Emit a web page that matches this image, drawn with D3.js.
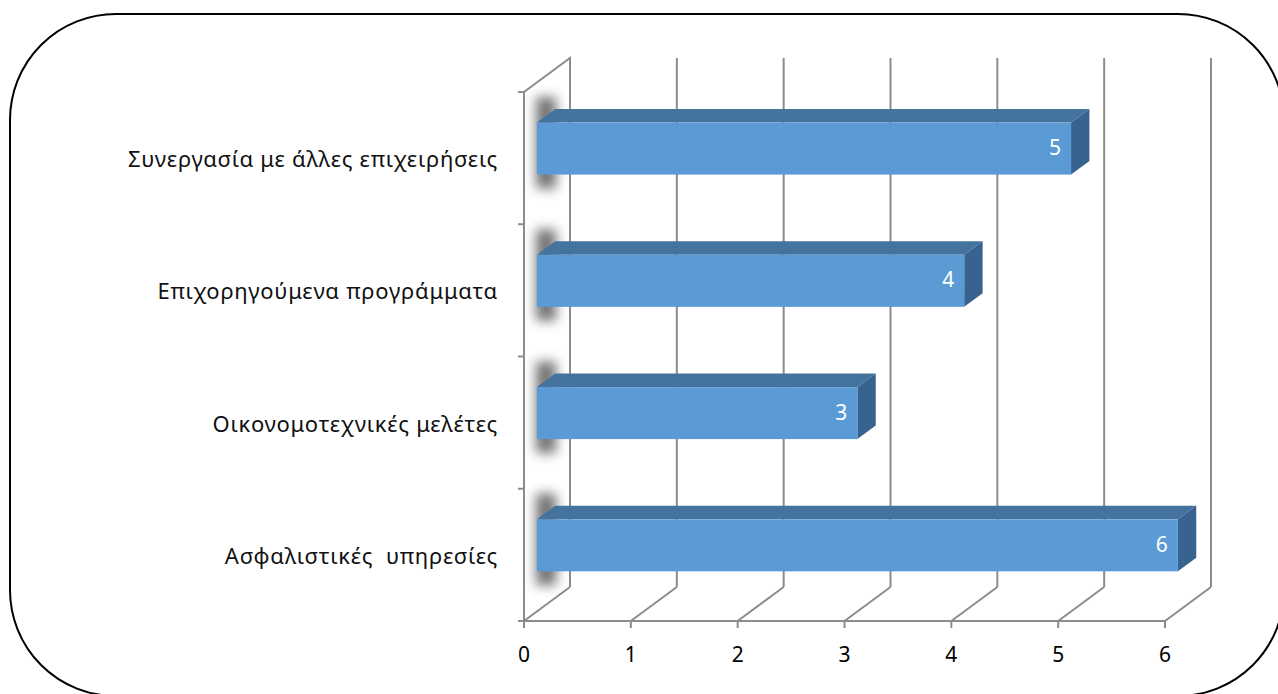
<!DOCTYPE html>
<html>
<head>
<meta charset="utf-8">
<script src="https://cdnjs.cloudflare.com/ajax/libs/d3/7.8.5/d3.min.js"></script>
<style>
  html, body { margin: 0; padding: 0; background: #fff; }
  svg { display: block; }
  text { font-family: "Noto Sans", "Open Sans", sans-serif; white-space: pre; }
</style>
</head>
<body>
<svg id="chart" width="1278" height="694"></svg>
<script>
// Categories listed from top to bottom
const categories = [
  "Συνεργασία με άλλες επιχειρήσεις",
  "Επιχορηγούμενα προγράμματα",
  "Οικονομοτεχνικές μελέτες",
  "Ασφαλιστικές  υπηρεσίες"
];
const values = [5, 4, 3, 6];
const xTicks = [0, 1, 2, 3, 4, 5, 6];

const svg = d3.select("#chart");

// Front plane of the plot area and the 3D depth offset
const plot = { left: 524, right: 1165, top: 92, bottom: 621 };
const depth = { dx: 46, dy: -34 };
const barFront = 0.28, barBack = 0.68;   // bar position inside the depth
const barFrac = 0.393;                     // bar thickness relative to band

const x = d3.scaleLinear().domain([0, 6]).range([plot.left, plot.right]);
const y = d3.scaleBand().domain(categories).range([plot.top, plot.bottom]).padding(0);

const grid = "#8c8c8c";

// Rounded frame
svg.append("rect")
  .attr("x", 10).attr("y", 14)
  .attr("width", 1274).attr("height", 682)
  .attr("rx", 106).attr("ry", 106)
  .attr("fill", "none").attr("stroke", "#000").attr("stroke-width", 2);

const defs = svg.append("defs");
defs.append("filter").attr("id", "soft")
  .attr("x", "-100%").attr("y", "-50%").attr("width", "300%").attr("height", "200%")
  .append("feGaussianBlur").attr("stdDeviation", 6);

const g = svg.append("g");

// Left wall
const wallPts = [
  [plot.left, plot.bottom], [plot.left, plot.top],
  [plot.left + depth.dx, plot.top + depth.dy], [plot.left + depth.dx, plot.bottom + depth.dy]
];
g.append("path")
  .attr("d", d3.line()(wallPts))
  .attr("fill", "none").attr("stroke", grid).attr("stroke-width", 2);

// Back wall gridlines and floor diagonals
xTicks.forEach(t => {
  if (t > 0) {
    g.append("line")
      .attr("x1", x(t) + depth.dx).attr("x2", x(t) + depth.dx)
      .attr("y1", plot.top + depth.dy).attr("y2", plot.bottom + depth.dy)
      .attr("stroke", grid).attr("stroke-width", 2);
  }
  g.append("line")
    .attr("x1", x(t)).attr("y1", plot.bottom)
    .attr("x2", x(t) + depth.dx).attr("y2", plot.bottom + depth.dy)
    .attr("stroke", grid).attr("stroke-width", 2);
});

// Front x axis line and ticks
g.append("line")
  .attr("x1", plot.left - 6).attr("x2", plot.right)
  .attr("y1", plot.bottom).attr("y2", plot.bottom)
  .attr("stroke", grid).attr("stroke-width", 2);
xTicks.forEach(t => {
  g.append("line")
    .attr("x1", x(t)).attr("x2", x(t))
    .attr("y1", plot.bottom).attr("y2", plot.bottom + 7)
    .attr("stroke", grid).attr("stroke-width", 2);
  g.append("text")
    .attr("x", x(t)).attr("y", plot.bottom + 35)
    .attr("text-anchor", "middle").attr("dominant-baseline", "middle")
    .attr("font-size", 21).attr("fill", "#000")
    .text(t);
});

// Category ticks on the left edge
const bounds = categories.map(c => y(c)).concat([plot.bottom]);
bounds.forEach(b => {
  g.append("line")
    .attr("x1", plot.left - 6).attr("x2", plot.left)
    .attr("y1", b).attr("y2", b)
    .attr("stroke", grid).attr("stroke-width", 2);
});

// Category labels
categories.forEach(c => {
  g.append("text")
    .attr("x", 498).attr("y", y(c) + y.bandwidth() / 2 + 3)
    .attr("text-anchor", "end").attr("dominant-baseline", "middle")
    .attr("font-size", 22).attr("letter-spacing", 0.75).attr("fill", "#111")
    .text(c);
});

// Bars
const fx = barFront * depth.dx, fy = barFront * depth.dy;
const bx = (barBack - barFront) * depth.dx, by = (barBack - barFront) * depth.dy;
const bh = y.bandwidth() * barFrac;

categories.forEach((c, i) => {
  const v = values[i];
  const x0 = x(0) + fx, x1 = x(v) + fx;
  const yc = y(c) + y.bandwidth() / 2 + fy;
  const y0 = yc - bh / 2, y1 = yc + bh / 2;

  // soft shadow cast on the side wall
  g.append("rect")
    .attr("x", x0 - 1).attr("y", y0 + by - 12)
    .attr("width", bx + 2).attr("height", bh - by + 26)
    .attr("fill", "#3a3a3a").attr("opacity", 0.7)
    .attr("filter", "url(#soft)");

  // top face
  g.append("path")
    .attr("d", d3.line()([[x0, y0], [x1, y0], [x1 + bx, y0 + by], [x0 + bx, y0 + by]]) + "Z")
    .attr("fill", "#44739e");
  // right face
  g.append("path")
    .attr("d", d3.line()([[x1, y0], [x1 + bx, y0 + by], [x1 + bx, y1 + by], [x1, y1]]) + "Z")
    .attr("fill", "#386390");
  // front face
  g.append("rect")
    .attr("x", x0).attr("y", y0)
    .attr("width", x1 - x0).attr("height", bh)
    .attr("fill", "#5b9bd5");

  // value label
  g.append("text")
    .attr("x", x1 - 10).attr("y", yc + 1)
    .attr("text-anchor", "end").attr("dominant-baseline", "middle")
    .attr("font-size", 21).attr("fill", "#fff")
    .text(v);
});
</script>
</body>
</html>
